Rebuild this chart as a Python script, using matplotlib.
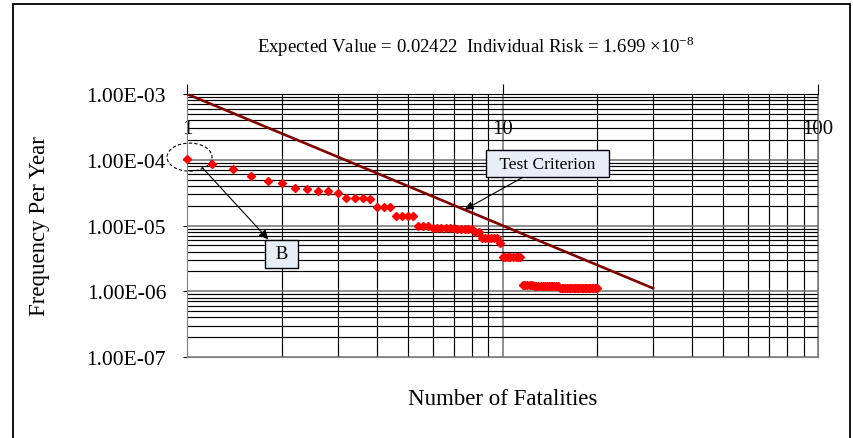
import matplotlib
matplotlib.use("Agg")
import matplotlib.pyplot as plt
from matplotlib.patches import Ellipse, Rectangle

# данные F-N кривой
fatalities = [1.0, 1.2, 1.4, 1.6, 1.8, 2.0, 2.2, 2.4, 2.6, 2.8,
              3.0, 3.2, 3.4, 3.6, 3.8, 4.0, 4.2, 4.4, 4.6, 4.8,
              5.0, 5.2, 5.4, 5.6, 5.8, 6.0, 6.2, 6.4, 6.6, 6.8,
              7.0, 7.2, 7.4, 7.6, 7.8, 8.0, 8.2, 8.4, 8.6, 8.8,
              9.0, 9.2, 9.4, 9.6, 9.8, 10.0, 10.2, 10.4, 10.6, 10.8,
              11.0, 11.2, 11.4, 11.6, 11.8, 12.0, 12.2, 12.4, 12.6, 12.8,
              13.0, 13.2, 13.4, 13.6, 13.8, 14.0, 14.2, 14.4, 14.6, 14.8,
              15.0, 15.2, 15.4, 15.6, 15.8, 16.0, 16.2, 16.4, 16.6, 16.8,
              17.0, 17.2, 17.4, 17.6, 17.8, 18.0, 18.2, 18.4, 18.6, 18.8,
              19.0, 19.2, 19.4, 19.6, 19.8, 20.0]
frequency = [1.02e-4, 8.6e-5, 7.2e-5, 5.7e-5, 4.7e-5, 4.4e-5, 3.7e-5, 3.6e-5, 3.4e-5, 3.3e-5,
             3.1e-5, 2.6e-5, 2.6e-5, 2.6e-5, 2.5e-5, 1.9e-5, 1.9e-5, 1.9e-5, 1.4e-5, 1.4e-5,
             1.4e-5, 1.4e-5, 1.0e-5, 1.0e-5, 1.0e-5, 9.2e-6, 9.2e-6, 9.1e-6, 9.1e-6, 9.1e-6,
             9.1e-6, 9.0e-6, 9.0e-6, 9.0e-6, 8.9e-6, 8.9e-6, 8.0e-6, 8.0e-6, 6.4e-6, 6.4e-6,
             6.4e-6, 6.4e-6, 6.4e-6, 6.4e-6, 5.4e-6, 3.3e-6, 3.3e-6, 3.3e-6, 3.3e-6, 3.3e-6,
             3.3e-6, 3.3e-6, 3.3e-6, 1.26e-6, 1.26e-6, 1.26e-6, 1.26e-6, 1.26e-6, 1.2e-6, 1.2e-6,
             1.2e-6, 1.2e-6, 1.2e-6, 1.2e-6, 1.2e-6, 1.2e-6, 1.2e-6, 1.2e-6, 1.2e-6, 1.2e-6,
             1.2e-6, 1.12e-6, 1.12e-6, 1.12e-6, 1.12e-6, 1.12e-6, 1.12e-6, 1.12e-6, 1.12e-6, 1.12e-6,
             1.12e-6, 1.12e-6, 1.12e-6, 1.12e-6, 1.12e-6, 1.12e-6, 1.12e-6, 1.12e-6, 1.12e-6, 1.12e-6,
             1.12e-6, 1.12e-6, 1.12e-6, 1.12e-6, 1.12e-6, 1.12e-6]

# линия критерия
crit_n = [1, 30]
crit_f = [1e-3, 1.11e-6]

y_ticks = [1e-7, 1e-6, 1e-5, 1e-4, 1e-3]
y_labels = ["1.00E-07", "1.00E-06", "1.00E-05", "1.00E-04", "1.00E-03"]
x_ticks = [1, 10, 100]
x_labels = ["1", "10", "100"]

plt.rcParams['font.family'] = ['Liberation Serif', 'DejaVu Serif']
plt.rcParams['mathtext.fontset'] = 'custom'
plt.rcParams['mathtext.rm'] = 'Liberation Serif'

fig = plt.figure(figsize=(8.54, 4.39), dpi=100)
ax = fig.add_axes([187 / 854, 1 - 358 / 439, 631 / 854, 263 / 439])

ax.set_xscale('log')
ax.set_yscale('log')
ax.set_xlim(1, 100)
ax.set_ylim(1e-7, 1e-3)

ax.plot(crit_n, crit_f, color='#800000', lw=1.9, zorder=3)
ax.plot(fatalities, frequency, ls='none', marker='D', ms=3.8,
        color='red', mec='red', zorder=4, clip_on=False)

# сетка
ax.set_xticks(x_ticks)
ax.set_xticklabels(x_labels)
ax.set_yticks(y_ticks)
ax.set_yticklabels(y_labels)
ax.grid(which='major', color='#707070', lw=1.1)
ax.grid(which='minor', color='black', lw=0.85)
ax.set_axisbelow(True)

ax.tick_params(axis='y', which='major', direction='out', length=3, labelsize=15.5, pad=12)
ax.tick_params(axis='y', which='minor', length=0)
ax.tick_params(axis='x', which='major', top=True, bottom=False, labeltop=True,
               labelbottom=False, direction='out', length=7, labelsize=15, pad=-39)
ax.tick_params(axis='x', which='minor', length=0, top=False, bottom=False)
for s in ax.spines.values():
    s.set_color('#808080')
ax.spines['top'].set_color('black')

ax.set_ylabel('Frequency Per Year', fontsize=16.5)
ax.yaxis.set_label_coords(-0.217, 0.5)
ax.set_xlabel('Number of Fatalities', fontsize=16.5)
ax.xaxis.set_label_coords(0.5, -0.118)

fig.text(476 / 854, 1 - 47 / 439,
         'Expected Value = 0.02422  Individual Risk = 1.699 \u00d710$^{-8}$',
         ha='center', va='center', fontsize=13.5)

# аннотации
box = dict(boxstyle='square,pad=0.3', fc='#e8eef8', ec='black', lw=1)
ax.annotate('  Test Criterion  ', xy=(7.6, 1.75e-5), xytext=(0.571, 0.735),
            textcoords='axes fraction', ha='center', va='center', fontsize=12.5,
            bbox=box, arrowprops=dict(arrowstyle='-|>', color='black', lw=0.8,
                                      shrinkA=0, shrinkB=0))
ax.annotate(' B ', xy=(0.0235, 0.722), xycoords='axes fraction',
            xytext=(0.15, 0.392), textcoords='axes fraction',
            ha='center', va='center', fontsize=13.5, bbox=box,
            arrowprops=dict(arrowstyle='<|-', color='black', lw=0.8,
                            shrinkA=0, shrinkB=0))
ax.add_patch(Ellipse((0.004, 0.76), 0.0713, 0.1065, transform=ax.transAxes,
                     fill=False, ec='black', lw=0.8, ls=(0, (3, 2)), clip_on=False))

# рамка
fig.add_artist(Rectangle((13 / 854, -0.01), (850 - 13) / 854, 1 - 5 / 439 + 0.01,
                         transform=fig.transFigure, fill=False, ec='black', lw=1.3))

fig.savefig('out.png', dpi=100)
